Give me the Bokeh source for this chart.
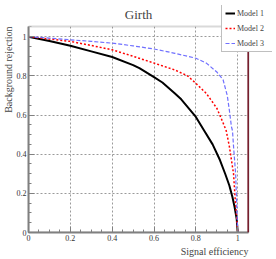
from bokeh.plotting import figure
from bokeh.models import (Range1d, Legend, LegendItem, Span, FixedTicker, Title,
                          BoxAnnotation, Label)
from bokeh.embed import file_html
from bokeh.resources import INLINE

# Data
m1_eff = [0.0, 0.1, 0.2, 0.3, 0.4, 0.5, 0.53, 0.6, 0.64, 0.7, 0.73, 0.8, 0.84, 0.88, 0.915, 0.94, 0.96, 0.975, 0.985, 0.995, 1.0]
m1_rej = [1.0, 0.978, 0.954, 0.925, 0.896, 0.855, 0.839, 0.793, 0.766, 0.71, 0.68, 0.59, 0.52, 0.45, 0.37, 0.30, 0.24, 0.18, 0.13, 0.07, 0.0]

m2_eff = [0.0, 0.1, 0.2, 0.3, 0.4, 0.5, 0.6, 0.7, 0.76, 0.8, 0.85, 0.9, 0.93, 0.945, 0.96, 0.97, 0.98, 0.988, 0.995, 1.0]
m2_rej = [1.0, 0.988, 0.976, 0.955, 0.933, 0.90, 0.865, 0.83, 0.80, 0.762, 0.71, 0.635, 0.56, 0.52, 0.44, 0.37, 0.30, 0.17, 0.08, 0.0]

m3_eff = [0.0, 0.1, 0.2, 0.3, 0.4, 0.5, 0.6, 0.7, 0.8, 0.85, 0.9, 0.93, 0.95, 0.96, 0.97, 0.975, 0.98, 0.99, 0.995, 1.0]
m3_rej = [1.0, 0.993, 0.984, 0.976, 0.967, 0.953, 0.937, 0.915, 0.89, 0.865, 0.82, 0.78, 0.70, 0.625, 0.54, 0.52, 0.44, 0.30, 0.15, 0.0]

series_names = ["Model 1", "Model 2", "Model 3"]
x_ticks = [0, 0.2, 0.4, 0.6, 0.8, 1]
y_ticks = [0, 0.2, 0.4, 0.6, 0.8, 1]
minor_ticks = [i * 0.05 for i in range(22)]
tick_text = {0: "0", 0.2: "0.2", 0.4: "0.4", 0.6: "0.6", 0.8: "0.8", 1: "1"}
title_text = "Girth"
x_title = "Signal efficiency"
y_title = "Background rejection"

SERIF = "Liberation Serif"
AX_END = 1.052            # end of the drawn axes box
X_VIEW = AX_END * 245 / 221   # frame extends right to hold the legend
Y_VIEW = AX_END * 227 / 206   # frame extends up to hold title and legend

p = figure(width=276, height=259, output_backend="svg", toolbar_location=None, title=None,
           x_range=Range1d(0, X_VIEW), y_range=Range1d(0, Y_VIEW),
           min_border_left=27, min_border_right=4, min_border_top=5, min_border_bottom=27)

for ax, ticks in ((p.xaxis, x_ticks), (p.yaxis, y_ticks)):
    ax.ticker = FixedTicker(ticks=ticks, minor_ticks=minor_ticks)
    ax.bounds = (0, AX_END)
    ax.major_label_text_font = SERIF
    ax.major_label_text_font_size = "8px"
    ax.major_label_text_color = "#333333"
    ax.axis_line_color = "#808080"
    ax.axis_line_width = 2
    ax.major_tick_in = 6
    ax.major_tick_out = 0
    ax.minor_tick_in = 3
    ax.minor_tick_out = 0
    ax.major_tick_line_color = "#808080"
    ax.minor_tick_line_color = "#808080"
    ax.major_label_standoff = 2
    ax.major_label_overrides = tick_text

p.grid.grid_line_color = "#9a9a9a"
p.grid.grid_line_dash = "2 2"
p.grid.grid_line_width = 1
p.outline_line_color = None

r1 = p.line(m1_eff, m1_rej, line_color="black", line_width=2)
r2 = p.line(m2_eff, m2_rej, line_color="red", line_width=1.5, line_dash="2 2")
r3 = p.line(m3_eff, m3_rej, line_color="#7070ff", line_width=1.2, line_dash="4 2")

# blank out grid outside the axes box
p.add_layout(BoxAnnotation(bottom=AX_END, fill_color="white", fill_alpha=1, line_color=None))
p.add_layout(BoxAnnotation(left=AX_END, fill_color="white", fill_alpha=1, line_color=None))
# axes box outline
p.add_layout(BoxAnnotation(left=0, right=AX_END, bottom=0, top=AX_END, fill_alpha=0,
                           line_color="#808080", line_width=2))
p.add_layout(Span(location=1.05, dimension="height", line_color="#701020", line_width=1.5))

p.add_layout(Label(x=AX_END / 2, y=AX_END + 0.062, text=title_text, text_align="center",
                   text_baseline="middle", text_font=SERIF, text_font_size="13px"))

legend = Legend(items=[LegendItem(label=series_names[0], renderers=[r1]),
                       LegendItem(label=series_names[1], renderers=[r2]),
                       LegendItem(label=series_names[2], renderers=[r3])],
                location=(193, 180))
legend.label_text_font = SERIF
legend.label_text_font_size = "8px"
legend.glyph_width = 10
legend.glyph_height = 10
legend.spacing = 5
legend.padding = 3
legend.margin = 0
legend.label_standoff = 2
legend.label_height = 10
legend.label_width = 32
legend.border_line_color = "#808080"
legend.border_line_width = 1.5
legend.background_fill_alpha = 1
p.add_layout(legend, "center")

p.add_layout(Title(text=x_title, align="right", text_font=SERIF, text_font_size="10px",
                   text_font_style="normal", standoff=0, offset=24), "below")
p.add_layout(Title(text=y_title, align="right", text_font=SERIF, text_font_size="10px",
                   text_font_style="normal", standoff=0, offset=21), "left")

open("out.html", "w").write(file_html(p, INLINE))
